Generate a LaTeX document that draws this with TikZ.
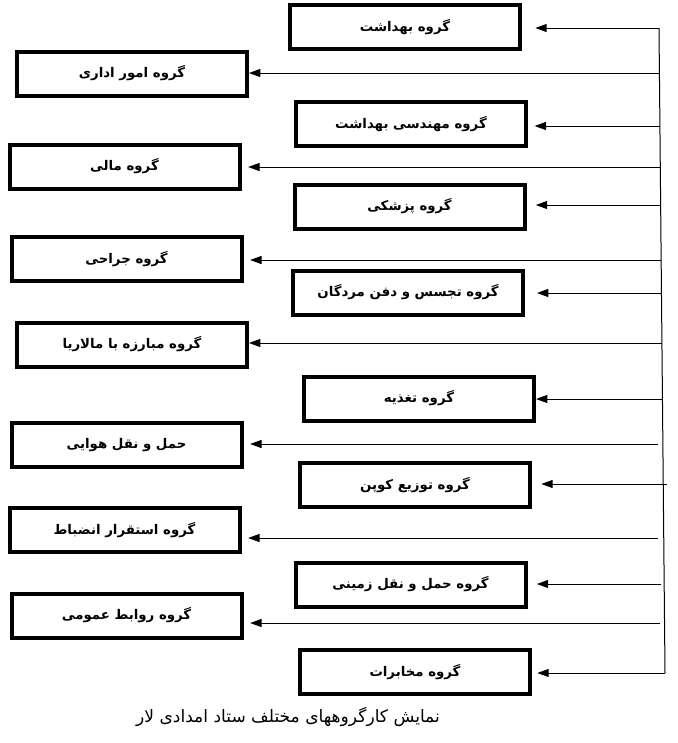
\documentclass[tikz,border=0pt]{standalone}
\usepackage{fontspec}
\newfontfamily\arabicfont[Script=Arabic]{DejaVu Sans}
\TeXXeTstate=1
\usetikzlibrary{arrows.meta}
\usetikzlibrary{calc}

\tikzset{
  group/.style={draw=black, line width=3pt, minimum width=172.5pt,
    minimum height=33pt, inner sep=0pt,
    font=\arabicfont\bfseries\fontsize{10}{12}\selectfont},
  feed/.style={line width=0.75pt, -{Triangle[length=8.5pt,width=6pt]}},
}

\begin{document}
\begin{tikzpicture}[x=0.75pt, y=-0.75pt]
        \useasboundingbox (0,0) rectangle (678,743);

        % right column
        \node[group] (behdasht) at (405,27) {\beginR گروه بهداشت\endR};
        \node[group] (mohandesi) at (411,124) {\beginR گروه مهندسی بهداشت\endR};
        \node[group] (pezeshki) at (409.5,206.5) {\beginR گروه پزشکی\endR};
        \node[group] (tajasos) at (408,292.5) {\beginR گروه تجسس و دفن مردگان\endR};
        \node[group] (taghzie) at (419,398.5) {\beginR گروه تغذیه\endR};
        \node[group] (coupon) at (415,485) {\beginR گروه توزیع کوپن\endR};
        \node[group] (zamini) at (410.5,584.5) {\beginR گروه حمل و نقل زمینی\endR};
        \node[group] (mokhaberat) at (415,672) {\beginR گروه مخابرات\endR};

        % left column
        \node[group] (edari) at (132,73.5) {\beginR گروه امور اداری\endR};
        \node[group] (mali) at (124.5,166.5) {\beginR گروه مالی\endR};
        \node[group] (jarahi) at (126.5,259) {\beginR گروه جراحی\endR};
        \node[group] (malaria) at (132,344.5) {\beginR گروه مبارزه با مالاریا\endR};
        \node[group] (havayi) at (126.5,445) {\beginR حمل و نقل هوایی\endR};
        \node[group] (enzebat) at (124.5,530) {\beginR گروه استقرار انضباط\endR};
        \node[group] (ravabet) at (126.5,615.5) {\beginR گروه روابط عمومی\endR};

        % trunk
        \coordinate (top) at (659,28);
        \coordinate (bot) at (665,673);
        \draw[line width=0.75pt] (top) -- (bot);

        \coordinate (b1) at (659,28);
        \coordinate (b2) at (659.4,73);
        \coordinate (b3) at (659.9,126);
        \coordinate (b4) at (660.3,167);
        \coordinate (b5) at (660.6,205);
        \coordinate (b6) at (661.2,260);
        \coordinate (b7) at (661.5,293);
        \coordinate (b8) at (661.9,343);
        \coordinate (b9) at (662.4,399);
        \coordinate (b10) at (658,444);
        \coordinate (b11) at (667,484);
        \coordinate (b12) at (658,538);
        \coordinate (b13) at (661,584);
        \coordinate (b14) at (660,623);
        \coordinate (b15) at (665,673);

        \draw[feed, shorten >=10pt] (b1) -- (b1 -| behdasht.east);
        \draw[feed] (b2) -- (b2 -| edari.east);
        \draw[feed, shorten >=5pt] (b3) -- (b3 -| mohandesi.east);
        \draw[feed, shorten >=5pt] (b4) -- (b4 -| mali.east);
        \draw[feed, shorten >=7pt] (b5) -- (b5 -| pezeshki.east);
        \draw[feed, shorten >=5pt] (b6) -- (b6 -| jarahi.east);
        \draw[feed, shorten >=9pt] (b7) -- (b7 -| tajasos.east);
        \draw[feed] (b8) -- (b8 -| malaria.east);
        \draw[feed] (b9) -- (b9 -| taghzie.east);
        \draw[feed, shorten >=5pt] (b10) -- (b10 -| havayi.east);
        \draw[feed, shorten >=7pt] (b11) -- (b11 -| coupon.east);
        \draw[feed, shorten >=5pt] (b12) -- (b12 -| enzebat.east);
        \draw[feed, shorten >=7pt] (b13) -- (b13 -| zamini.east);
        \draw[feed, shorten >=5pt] (b14) -- (b14 -| ravabet.east);
        \draw[feed, shorten >=4pt] (b15) -- (b15 -| mokhaberat.east);

        \node[font=\arabicfont\fontsize{12.8}{15}\selectfont] (caption) at (288,717)
          {\beginR نمایش کارگروههای مختلف ستاد امدادی لار\endR};
\end{tikzpicture}
\end{document}
